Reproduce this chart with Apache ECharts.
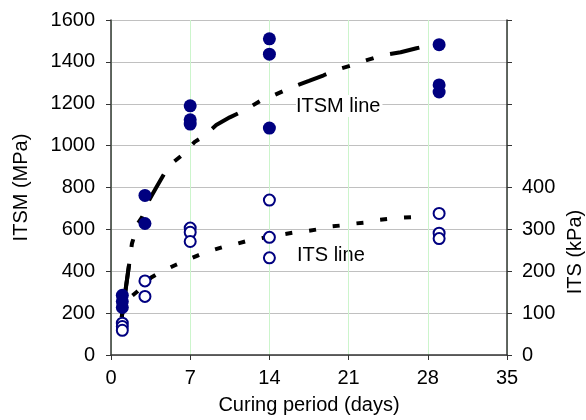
<!DOCTYPE html>
<html>
<head>
<meta charset="utf-8">
<script src="https://cdn.jsdelivr.net/npm/echarts@6/dist/echarts.min.js"></script>
<style>
html,body{margin:0;padding:0;background:#fff;}
#chart{width:586px;height:420px;}
</style>
</head>
<body>
<div id="chart"></div>
<script>
// Data
const itsmDays = [1, 1, 1, 3, 3, 7, 7, 7, 14, 14, 14, 29, 29, 29];
const itsmVals = [285, 255, 227, 762, 628, 1190, 1123, 1103, 1510, 1437, 1084, 1482, 1290, 1256];

const itsDays = [1, 1, 1, 3, 3, 7, 7, 7, 14, 14, 14, 29, 29, 29];
const itsVals = [76, 68, 59, 177, 140, 303, 293, 271, 370, 281, 232, 338, 291, 278];

const itsmLineDays = [0.95, 1.6, 1.85, 2.4, 2.75, 3.4, 4.0, 4.7, 5.6, 6.2, 7.4, 8.1, 9.3, 10.5, 11.8, 13.4, 13.9, 15.4, 16.1, 17.5, 18.8, 20.0, 21.5, 22.0, 23.5, 24.2, 25.6, 27.0, 28.1];
const itsmLineVals = [180, 432, 532, 630, 658, 743, 800, 866, 925, 951, 1018, 1041, 1098, 1135, 1169, 1220, 1228, 1265, 1281, 1309, 1336, 1363, 1387, 1398, 1423, 1433, 1446, 1465, 1479];

const itsLineDays = [1.9, 2.3, 3.55, 4.1, 5.7, 6.3, 7.7, 8.4, 9.9, 10.6, 12.0, 12.9, 14.3, 14.9, 16.3, 17.1, 18.5, 19.1, 20.6, 21.2, 22.7, 23.4, 24.9, 25.6, 27.1, 27.8];
const itsLineVals = [142, 151, 185, 194, 215, 222, 238, 246, 258, 262, 272, 277, 284, 287, 293, 295, 301, 306, 310, 313, 317, 322, 326, 328, 330, 332];

const xTicks = [0, 7, 14, 21, 28, 35];
const leftTicks = [0, 200, 400, 600, 800, 1000, 1200, 1400, 1600];
const rightTicks = [0, 100, 200, 300, 400];

const zip = (a, b) => a.map((v, i) => [v, b[i]]);
const FONT = '"Liberation Sans", Arial, sans-serif';
const NAVY = '#000080';

const chart = echarts.init(document.getElementById('chart'), null, {renderer: 'canvas'});
chart.setOption({
  animation: false,
  backgroundColor: '#ffffff',
  grid: {left: 111, right: 79, top: 20, bottom: 62, show: false},
  xAxis: {
    type: 'value', min: xTicks[0], max: xTicks[xTicks.length - 1], interval: 7,
    name: 'Curing period (days)', nameLocation: 'middle', nameGap: 40,
    nameTextStyle: {fontFamily: FONT, fontSize: 20, color: '#000'},
    axisLine: {show: true, onZero: false, lineStyle: {color: '#333', width: 1.5}},
    axisTick: {show: true, inside: false, length: 5, lineStyle: {color: '#333'}},
    axisLabel: {fontFamily: FONT, fontSize: 20, color: '#000', margin: 13, formatter: v => String(v)},
    splitLine: {show: true, lineStyle: {color: '#ccf5cc', width: 1}}
  },
  yAxis: [{
    type: 'value', min: leftTicks[0], max: leftTicks[leftTicks.length - 1], interval: 200,
    name: 'ITSM (MPa)', nameLocation: 'middle', nameRotate: 90, nameGap: 80,
    nameTextStyle: {fontFamily: FONT, fontSize: 20, color: '#000'},
    axisLine: {show: true, onZero: false, lineStyle: {color: '#333', width: 1.5}},
    axisTick: {show: true, inside: false, length: 5, lineStyle: {color: '#333'}},
    axisLabel: {fontFamily: FONT, fontSize: 20, color: '#000', margin: 16, formatter: v => String(v)},
    splitLine: {show: true, lineStyle: {color: '#c0c0c0', width: 1}}
  }, {
    type: 'value', min: 0, max: 800, interval: 100, position: 'right',
    axisLine: {show: true, onZero: false, lineStyle: {color: '#333', width: 1.5}},
    axisTick: {show: true, inside: false, length: 5, lineStyle: {color: '#333'}},
    axisLabel: {
      fontFamily: FONT, fontSize: 20, color: '#000', margin: 15,
      formatter: v => (rightTicks.indexOf(v) >= 0 ? String(v) : '')
    },
    splitLine: {show: false}
  }],
  graphic: [
    {type: 'text', x: 296, y: 106, z: 10, style: {text: 'ITSM line', font: '20px ' + FONT, fill: '#000', textAlign: 'left', textVerticalAlign: 'middle', backgroundColor: '#ffffff', padding: [1, 2, 1, 0]}},
    {type: 'text', x: 297, y: 255, style: {text: 'ITS line', font: '20px ' + FONT, fill: '#000', textAlign: 'left', textVerticalAlign: 'middle'}},
    {type: 'text', x: 575, y: 252, rotation: Math.PI / 2, style: {text: 'ITS (kPa)', font: '20px ' + FONT, fill: '#000', textAlign: 'center', textVerticalAlign: 'middle'}}
  ],
  series: [
    {
      name: 'ITSM line', type: 'line', yAxisIndex: 0, showSymbol: false, smooth: false,
      data: zip(itsmLineDays, itsmLineVals),
      lineStyle: {color: '#000', width: 4, type: [30, 17, 8, 17, 8, 17], dashOffset: 73, cap: 'butt'},
      z: 3
    },
    {
      name: 'ITSM line start', type: 'line', yAxisIndex: 0, showSymbol: false,
      data: zip(itsmLineDays.slice(0, 2), itsmLineVals.slice(0, 2)),
      lineStyle: {color: '#000', width: 4, type: 'solid'},
      z: 3
    },
    {
      name: 'ITS line', type: 'line', yAxisIndex: 1, showSymbol: false, smooth: false,
      data: zip(itsLineDays, itsLineVals),
      lineStyle: {color: '#000', width: 4, type: [7, 17], cap: 'butt'},
      z: 3
    },
    {
      name: 'ITSM', type: 'scatter', yAxisIndex: 0, symbol: 'circle', symbolSize: 13,
      data: zip(itsmDays, itsmVals),
      itemStyle: {color: NAVY, opacity: 1},
      z: 4
    },
    {
      name: 'ITS', type: 'scatter', yAxisIndex: 1, symbol: 'circle', symbolSize: 11,
      data: zip(itsDays, itsVals),
      itemStyle: {color: '#fff', borderColor: NAVY, borderWidth: 2, opacity: 1},
      z: 4
    }
  ]
});
</script>
</body>
</html>
